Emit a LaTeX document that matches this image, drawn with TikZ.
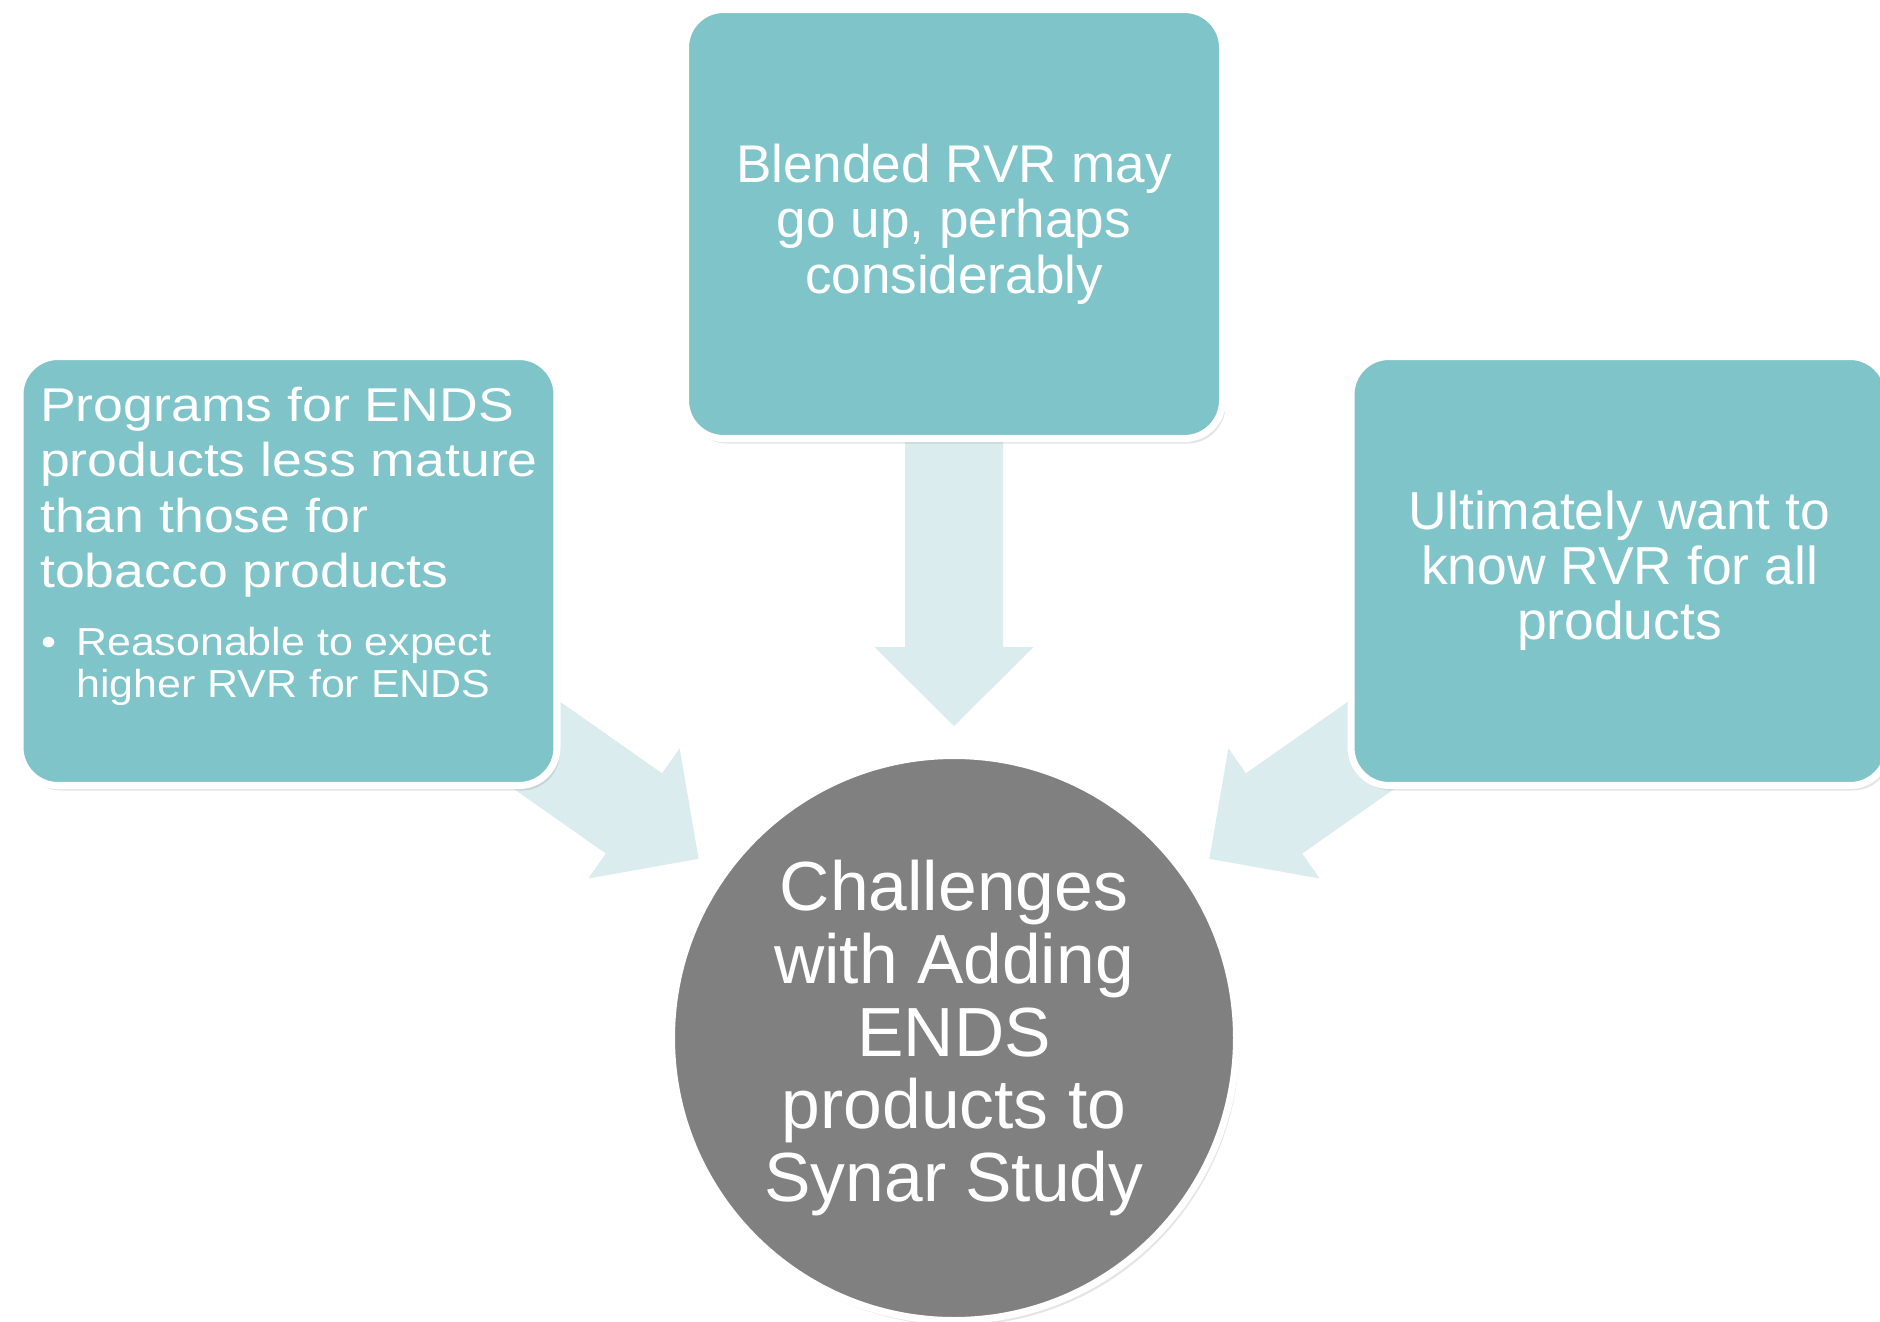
\documentclass[tikz,border=0pt]{standalone}
\usepackage{fontspec}
\setmainfont{Liberation Sans}
\newfontfamily\widesans{Liberation Sans}[FakeStretch=1.13]
\newfontfamily\subsans{Liberation Sans}[FakeStretch=1.1]
\usetikzlibrary{positioning, calc, shadows, backgrounds}

\definecolor{cardteal}{HTML}{7FC4C8}
\definecolor{arrowtint}{HTML}{DAECEE}
\definecolor{hubgray}{HTML}{808080}

\begin{document}
\begin{tikzpicture}[on grid,
    card/.style={rectangle, rounded corners=0.38cm, minimum width=5.37cm, minimum height=4.29cm,
        fill=cardteal, draw=white, line width=2pt, text=white, align=center, inner sep=0pt,
        drop shadow={opacity=0.2, shadow xshift=0.03cm, shadow yshift=-0.05cm}},
    hub/.style={circle, minimum size=5.65cm, fill=hubgray, draw=white, line width=2pt,
        text=white, align=center, inner sep=0pt,
        drop shadow={opacity=0.2, shadow xshift=0.03cm, shadow yshift=-0.05cm}}]
    \tikzset{cardtext/.style={anchor=north west, align=left, inner sep=0pt, text=white}}

    \useasboundingbox (0,0) rectangle (18.80,13.21);

    % CENTRE
    \node[hub, font=\fontsize{19.8pt}{20.7pt}\selectfont] (hub) at (9.54,2.83)
        {Challenges\\with Adding\\ENDS\\products to\\Synar Study};

    % CARDS
    \node[card, font=\fontsize{15.1pt}{15.8pt}\selectfont] (tbox) [above=8.14cm of hub]
        {Blended RVR may\\go up, perhaps\\considerably};
    \node[card] (lbox) [above left=4.67cm and 6.655cm of hub] {};
    \node[card, font=\fontsize{15.2pt}{15.7pt}\selectfont] (rbox) [above right=4.67cm and 6.655cm of hub]
        {Ultimately want to\\know RVR for all\\products};

    % LEFT CARD TEXT
    \node[cardtext, font=\widesans\fontsize{13.5pt}{15.8pt}\selectfont] (lmain)
        at ([shift={(0.23,-0.33)}]lbox.north west)
        {Programs for ENDS\\products less mature\\than those for\\tobacco products};
    \node[cardtext, font=\subsans\fontsize{11.1pt}{11.9pt}\selectfont] (lsub)
        at ([shift={(0.24,-2.735)}]lbox.north west)
        {\makebox[0.35cm][l]{\textbullet}Reasonable to expect\\\makebox[0.35cm]{}higher RVR for ENDS};

    % ARROWS
    \begin{pgfonlayer}{background}
        \fill[white] (0,0) rectangle (18.80,13.21);
        \foreach \src in {lbox, tbox, rbox}
            \fill[arrowtint] ($(hub.center)!3.12cm!(\src.center)$)
                -- ($(hub.center)!3.91cm!(\src.center)!0.795cm!90:(\src.center)$)
                -- ($(hub.center)!3.91cm!(\src.center)!0.49cm!90:(\src.center)$)
                -- ($(hub.center)!7cm!(\src.center)!0.49cm!90:(\src.center)$)
                -- ($(hub.center)!7cm!(\src.center)!0.49cm!-90:(\src.center)$)
                -- ($(hub.center)!3.91cm!(\src.center)!0.49cm!-90:(\src.center)$)
                -- ($(hub.center)!3.91cm!(\src.center)!0.795cm!-90:(\src.center)$)
                -- cycle;
    \end{pgfonlayer}

\end{tikzpicture}
\end{document}
